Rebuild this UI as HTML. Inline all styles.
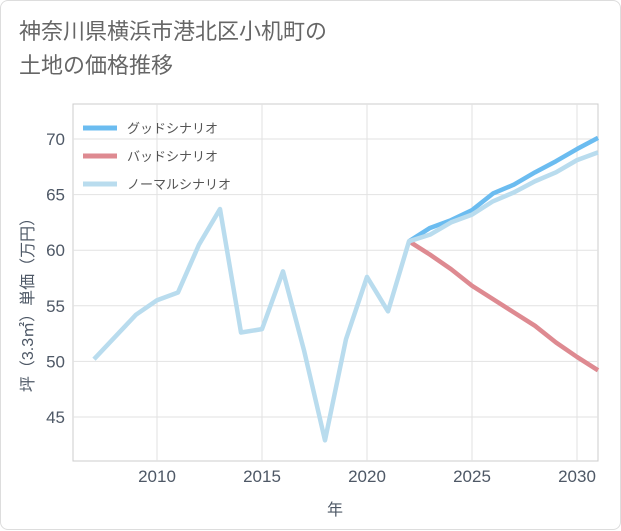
<!DOCTYPE html>
<html><head><meta charset="utf-8"><style>
body{margin:0;background:#fff;font-family:"Liberation Sans","Noto Sans CJK JP",sans-serif;}
#card{position:absolute;left:0;top:0;width:619px;height:528px;border:1px solid #ddd;border-radius:8px;background:#fff;}
#title{position:absolute;left:18px;top:14px;font-size:22px;line-height:34px;color:#666;}
</style></head><body>
<div id="card">
<div id="title">神奈川県横浜市港北区小机町の<br>土地の価格推移</div>
<svg id="chart" width="621" height="530" style="position:absolute;left:0;top:0"></svg>
</div>
<script>
const years=[2007,2008,2009,2010,2011,2012,2013,2014,2015,2016,2017,2018,2019,2020,2021,2022,2023,2024,2025,2026,2027,2028,2029,2030,2031];
const normal=[50.2,52.2,54.2,55.5,56.2,60.5,63.7,52.6,52.9,58.1,51,42.9,52,57.6,54.5,60.8,61.4,62.5,63.2,64.4,65.2,66.2,67,68.1,68.8];
const goodYears=[2022,2023,2024,2025,2026,2027,2028,2029,2030,2031];
const good=[60.8,62,62.7,63.6,65.1,65.9,67,68,69.1,70.1];
const bad=[60.8,59.6,58.3,56.8,55.6,54.4,53.2,51.7,50.4,49.2];
const xTicks=[2010,2015,2020,2025,2030];
const yTicks=[45,50,55,60,65,70];
const L=72,R=597,T=103,B=460;
const x=v=>156+(v-2010)*21;
const y=v=>138+(70-v)*11.12;
const svg=document.getElementById('chart');
const NS='http://www.w3.org/2000/svg';
function mk(t,a){const e=document.createElementNS(NS,t);for(const k in a)e.setAttribute(k,a[k]);svg.appendChild(e);return e;}
const bg=mk('rect',{x:L,y:T,width:R-L,height:B-T,fill:'#fff',stroke:'#ccc'});


yTicks.forEach(v=>{
 const g=mk('line',{x1:L,x2:R,y1:y(v),y2:y(v),stroke:'#e2e2e2'});
 
 
 const t=mk('text',{x:L-8,y:y(v)+6,'text-anchor':'end','font-size':17,fill:'#4e5866'});t.textContent=v;
 
 
});
xTicks.forEach(v=>{
 const g=mk('line',{x1:x(v),x2:x(v),y1:T,y2:B,stroke:'#e2e2e2'});
 
 
 const t=mk('text',{x:x(v),y:B+21,'text-anchor':'middle','font-size':17,fill:'#4e5866'});t.textContent=v;
 
 
});
function line(xs,vs,c,name){
 const p=mk('polyline',{points:xs.map((d,i)=>x(d)+','+y(vs[i])).join(' '),fill:'none',stroke:c,'stroke-width':4.5,'stroke-linejoin':'round'});
 
 
}
line(goodYears,bad,'#de8a91','bad-scenario-line');
line(goodYears,good,'#6bbcf0','good-scenario-line');
line(years,normal,'#b9dcee','normal-scenario-line');
const leg=[['グッドシナリオ','#6bbcf0'],['バッドシナリオ','#de8a91'],['ノーマルシナリオ','#b9dcee']];
leg.forEach((l,i)=>{
 const ly=127+i*28;
 const s=mk('line',{x1:82,x2:116,y1:ly,y2:ly,stroke:l[1],'stroke-width':5});
 
 
 const t=mk('text',{x:126,y:ly+5,'font-size':13,fill:'#555'});t.textContent=l[0];
 
 
});
const xt=mk('text',{x:334,y:514,'text-anchor':'middle','font-size':16,fill:'#4e5866'});xt.textContent='年';


const yt=mk('text',{x:0,y:0,'text-anchor':'middle','font-size':16,fill:'#4e5866',transform:'translate(32,300) rotate(-90)'});yt.textContent='坪（3.3㎡）単価（万円）';


</script>
</body></html>
